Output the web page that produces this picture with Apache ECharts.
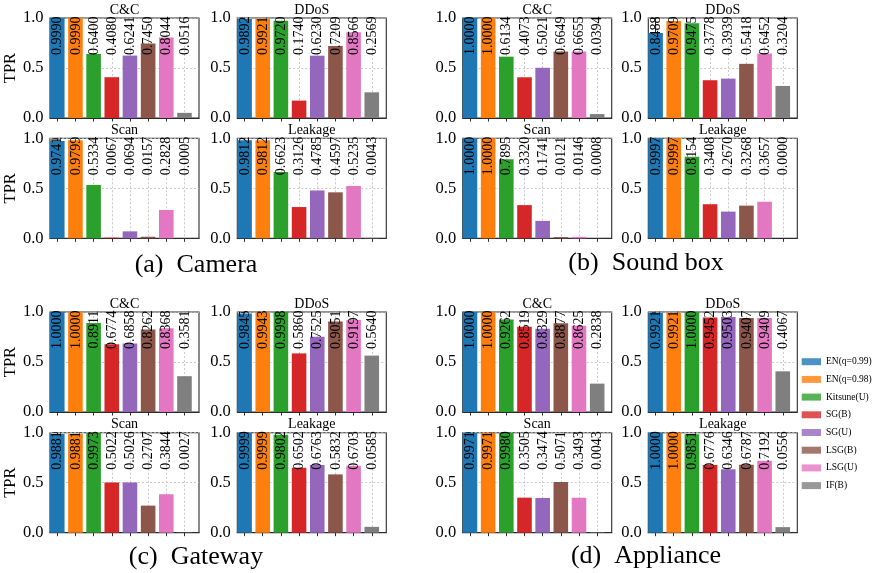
<!DOCTYPE html>
<html><head><meta charset="utf-8">
<script src="https://cdn.jsdelivr.net/npm/echarts@6/dist/echarts.min.js"></script>
<style>html,body{margin:0;padding:0;background:#fff}#c{width:878px;height:573px}</style>
</head><body><div id="c"></div>
<script>
var methods = ['EN(q=0.99)','EN(q=0.98)','Kitsune(U)','SG(B)','SG(U)','LSG(B)','LSG(U)','IF(B)'];
var colors = ['#1f77b4','#ff7f0e','#2ca02c','#d62728','#9467bd','#8c564b','#e377c2','#7f7f7f'];
var attacks = ['C&C','DDoS','Scan','Leakage'];
var devices = ['(a)  Camera','(b)  Sound box','(c)  Gateway','(d)  Appliance'];
var xTickValues = [0, 1, 2, 3, 4, 5, 6, 7];

var camera_cc   = [0.9990,0.9990,0.6400,0.4080,0.6241,0.7450,0.8044,0.0516];
var camera_ddos = [0.9892,0.9921,0.9720,0.1740,0.6230,0.7209,0.8566,0.2569];
var camera_scan = [0.9741,0.9799,0.5334,0.0067,0.0694,0.0157,0.2828,0.0005];
var camera_leak = [0.9812,0.9812,0.6623,0.3126,0.4785,0.4597,0.5235,0.0043];

var sound_cc   = [1.0000,1.0000,0.6134,0.4073,0.5021,0.6649,0.6655,0.0394];
var sound_ddos = [0.8488,0.9709,0.9475,0.3778,0.3939,0.5418,0.6452,0.3204];
var sound_scan = [1.0000,1.0000,0.7895,0.3320,0.1741,0.0121,0.0146,0.0008];
var sound_leak = [0.9997,0.9997,0.8154,0.3408,0.2670,0.3268,0.3657,0.0000];

var gateway_cc   = [1.0000,1.0000,0.8911,0.6774,0.6858,0.8262,0.8368,0.3581];
var gateway_ddos = [0.9845,0.9943,0.9998,0.5860,0.7525,0.9051,0.9197,0.5640];
var gateway_scan = [0.9881,0.9881,0.9973,0.5022,0.5026,0.2707,0.3844,0.0027];
var gateway_leak = [0.9999,0.9999,0.9802,0.6502,0.6763,0.5832,0.6703,0.0585];

var appliance_cc   = [1.0000,1.0000,0.9262,0.8519,0.8329,0.8877,0.8625,0.2838];
var appliance_ddos = [0.9921,0.9921,1.0000,0.9452,0.9503,0.9407,0.9409,0.4067];
var appliance_scan = [0.9971,0.9971,0.9980,0.3505,0.3474,0.5071,0.3493,0.0043];
var appliance_leak = [1.0000,1.0000,0.9851,0.6776,0.6346,0.6787,0.7192,0.0556];

var deviceData = [
  [camera_cc, camera_ddos, camera_scan, camera_leak],
  [sound_cc, sound_ddos, sound_scan, sound_leak],
  [gateway_cc, gateway_ddos, gateway_scan, gateway_leak],
  [appliance_cc, appliance_ddos, appliance_scan, appliance_leak]
];

(function () {
var FONT = '"Liberation Serif", "Times New Roman", serif';
var AX = '#2b2b2b';
var GRIDC = '#bdbdbd';
var panelW = 149, panelH = 100;
var colLeft = [[50, 237.3], [462.7, 648.3]];
var rowTop = [[18, 138.3], [312, 432.7]];
var captionPos = [[196, 265], [646, 263], [196, 557], [646, 556]];

var grids = [], xAxes = [], yAxes = [], series = [], graphics = [];
var idx = 0;
for (var d = 0; d < 4; d++) {
  var gc = d % 2, gr = Math.floor(d / 2);
  for (var a = 0; a < 4; a++) {
    var pc = a % 2, pr = Math.floor(a / 2);
    var gLeft = colLeft[gc][pc], gTop = rowTop[gr][pr];
    grids.push({left: gLeft, top: gTop, width: panelW, height: panelH,
      show: true, borderColor: AX, borderWidth: 1.1, backgroundColor: 'transparent'});
    xAxes.push({type: 'value', gridIndex: idx, min: -0.4, max: 7.8,
      axisLine: {show: true, onZero: false, lineStyle: {color: AX, width: 1.1}},
      axisTick: {show: true, length: 3.5, lineStyle: {color: AX}, customValues: xTickValues},
      axisLabel: {show: false, customValues: xTickValues},
      splitLine: {show: true, lineStyle: {color: GRIDC, type: [2, 2], width: 0.8}}});
    var yax = {type: 'value', gridIndex: idx, min: 0, max: 1, interval: 0.5,
      axisLine: {show: true, lineStyle: {color: AX, width: 1.1}},
      axisTick: {show: true, length: 3.5, lineStyle: {color: AX}},
      axisLabel: {show: true, margin: 6.5, fontFamily: FONT, fontSize: 16.5, color: '#000',
        formatter: function (v) { return v.toFixed(1); }},
      splitLine: {show: true, lineStyle: {color: GRIDC, type: [2, 2], width: 0.8}}};
    if ((d === 0 || d === 2) && pc === 0) {
      yax.name = 'TPR'; yax.nameLocation = 'middle'; yax.nameGap = 28;
      yax.nameTextStyle = {fontFamily: FONT, fontSize: 16.5, color: '#000'};
    }
    yAxes.push(yax);
    var vals = deviceData[d][a];
    series.push({type: 'bar', xAxisIndex: idx, yAxisIndex: idx, barWidth: 14.6,
      data: vals.map(function (v, i) { return {value: [i, v], itemStyle: {color: colors[i]}}; }),
      silent: true, z: 2});
    series.push({type: 'custom', xAxisIndex: idx, yAxisIndex: idx, z: 4, silent: true,
      data: vals.map(function (v, i) { return [i, v]; }),
      encode: {x: 0, y: 1},
      renderItem: function (params, api) {
        var p = api.coord([api.value(0), 1]);
        return {type: 'text', x: p[0] + 0.5, y: p[1] - 1.5, rotation: Math.PI / 2,
          style: {text: api.value(1).toFixed(4), fontFamily: FONT, fontSize: 14,
            fill: '#000', align: 'right', verticalAlign: 'middle'}};
      }});
    graphics.push({type: 'text', x: gLeft + panelW / 2, y: gTop - 8,
      style: {text: attacks[a], fontFamily: FONT, fontSize: 14, fill: '#000',
        align: 'center', verticalAlign: 'middle'}});
    idx++;
  }
  graphics.push({type: 'text', x: captionPos[d][0], y: captionPos[d][1],
    style: {text: devices[d], fontFamily: FONT, fontSize: 26, fill: '#000',
      align: 'center', verticalAlign: 'middle'}});
}
methods.forEach(function (m, i) {
  series.push({type: 'scatter', name: m, data: [], itemStyle: {color: colors[i]},
    xAxisIndex: 0, yAxisIndex: 0});
});

var chart = echarts.init(document.getElementById('c'), null, {renderer: 'canvas'});
chart.setOption({
  animation: false,
  backgroundColor: '#fff',
  grid: grids, xAxis: xAxes, yAxis: yAxes, series: series,
  legend: {orient: 'vertical', left: 801.7, top: 355.7, icon: 'rect',
    itemWidth: 19.3, itemHeight: 7, itemGap: 5.7,
    textStyle: {fontFamily: FONT, fontSize: 9.5, color: '#000', lineHeight: 12},
    padding: 0, data: methods},
  graphic: graphics
});
})();
</script></body></html>
